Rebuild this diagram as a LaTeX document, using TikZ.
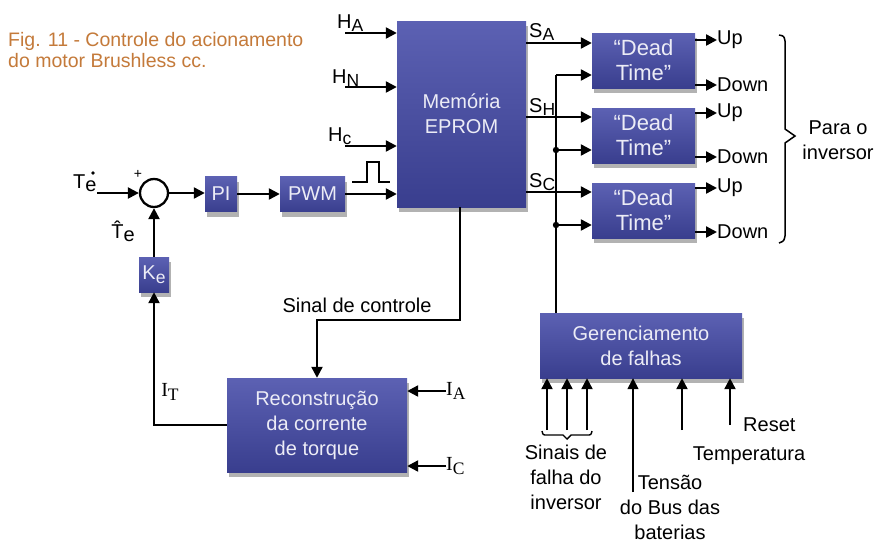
\documentclass[tikz,border=0pt]{standalone}
\usepackage{fontspec}
\setmainfont{Liberation Sans}
\newfontfamily\serifI{Liberation Serif}
\usetikzlibrary{arrows.meta,shadows}
\definecolor{blkTop}{HTML}{5C61B3}
\definecolor{blkBot}{HTML}{393E8E}
\definecolor{capc}{HTML}{C47A3A}
\definecolor{blktxt}{HTML}{ECECF6}
\newcommand\sbs[1]{\raisebox{-3.5pt}{\fontsize{17.5}{17.5}\selectfont #1}}
\begin{document}
\begin{tikzpicture}[x=1pt,y=-1pt,
  font=\fontsize{20}{25}\selectfont,
  blk/.style={draw=none, top color=blkTop, bottom color=blkBot, text=blktxt,
    inner sep=0pt, align=center,
    drop shadow={shadow xshift=2pt,shadow yshift=-5pt,fill=black!30,opacity=1}},
  arr/.style={line width=2.3pt, -{Triangle[length=11pt,width=11pt]}},
  ln/.style={line width=2.3pt},
  lbl/.style={inner sep=0pt, align=center}]
\useasboundingbox[fill=white] (0,0) rectangle (882,544);

% caption
\node[lbl, anchor=north west, align=left, text=capc,
  font=\fontsize{19.5}{21}\selectfont] (cap) at (8,32)
  {Fig. 11 - Controle do acionamento\\do motor Brushless cc.};

% blocks
\node[blk, minimum width=129pt, minimum height=186pt] (eprom) at (461.5,114) {Memória\\EPROM};
\node[blk, minimum width=103pt, minimum height=55pt, font=\fontsize{22}{25}\selectfont] (dt1) at (643.5,60.5) {“Dead\\Time”};
\node[blk, minimum width=103pt, minimum height=55pt, font=\fontsize{22}{25}\selectfont] (dt2) at (643.5,135.5) {“Dead\\Time”};
\node[blk, minimum width=103pt, minimum height=55pt, font=\fontsize{22}{25}\selectfont] (dt3) at (643.5,210.5) {“Dead\\Time”};
\node[blk, minimum width=32pt, minimum height=35pt] (pi) at (221,194) {PI};
\node[blk, minimum width=65pt, minimum height=35pt] (pwm) at (312.5,194) {PWM};
\node[blk, minimum width=30pt, minimum height=35pt] (ke) at (154,274.5) {K\sbs{e}};
\node[blk, minimum width=180pt, minimum height=94pt] (rec) at (317,425) {Reconstrução\\da corrente\\de torque};
\node[blk, minimum width=202pt, minimum height=65pt] (ger) at (641,345.5) {Gerenciamento\\de falhas};
\node[draw, line width=2.3pt, circle, minimum size=28pt, inner sep=0pt] (sum) at (154,193) {};

% summing junction input
\coordinate (tin) at (97,193);
\draw[arr] (tin) -- (sum.west);
\node[lbl, anchor=base west] (telbl) at (73,188) {T\raisebox{-3pt}{e}};
\fill (93,173) circle (1.8pt);
\node[lbl, font=\fontsize{14}{14}\selectfont] (plus) at (138,174) {+};
\node[lbl] (tehat) at (123,231) {\^{T}\raisebox{-3pt}{e}};

\draw[arr] (sum.east) -- (sum.east -| pi.west);
\draw[arr] (pi.east) -- (pwm.west);
\draw[arr] (pwm.east) -- (pwm.east -| eprom.west);
\draw[arr] (ke.north) -- (sum.south);

% H inputs
\coordinate (ha) at (345,33);
\coordinate (hn) at (345,87);
\coordinate (hc) at (345,146);
\draw[arr] (ha) -- (ha -| eprom.west);
\draw[arr] (hn) -- (hn -| eprom.west);
\draw[arr] (hc) -- (hc -| eprom.west);
\node[lbl, anchor=base west] (hal) at (337,28) {H\sbs{A}};
\node[lbl, anchor=base west] (hnl) at (332,83) {H\sbs{N}};
\node[lbl, anchor=base west] (hcl) at (328,141) {H\sbs{c}};
% pulse
\draw[line width=2.4pt] (352,182) -- (367,182) -- (367,162) -- (379,162) -- (379,182) -- (390,182);

% outputs S
\coordinate (sa) at (560,43);
\coordinate (sh) at (560,117);
\coordinate (sc) at (560,192);
\draw[arr] (eprom.east |- sa) -- (dt1.west |- sa);
\draw[arr] (eprom.east |- sh) -- (dt2.west |- sh);
\draw[arr] (eprom.east |- sc) -- (dt3.west |- sc);
\node[lbl, anchor=base west] (sal) at (529,37) {S\sbs{A}};
\node[lbl, anchor=base west] (shl) at (529,112) {S\sbs{H}};
\node[lbl, anchor=base west] (scl) at (529,187) {S\sbs{C}};

% fault line to dead-time blocks
\coordinate (f1) at (556,75);
\coordinate (f2) at (556,150);
\coordinate (f3) at (556,225);
\draw[line width=1.6pt] (ger.north -| f1) -- (f1);
\draw[arr] (f1) -- (f1 -| dt1.west);
\draw[arr] (f2) -- (f2 -| dt2.west);
\draw[arr] (f3) -- (f3 -| dt3.west);
\fill (f2) circle (3.2pt);
\fill (f3) circle (3.2pt);

% Up / Down outputs
\node[lbl, anchor=west] (up1) at (717,40) {Up};
\node[lbl, anchor=west] (dn1) at (717,85) {Down};
\node[lbl, anchor=west] (up2) at (717,113) {Up};
\node[lbl, anchor=west] (dn2) at (717,157) {Down};
\node[lbl, anchor=west] (up3) at (717,188) {Up};
\node[lbl, anchor=west] (dn3) at (717,232) {Down};
\draw[arr] (dt1.east |- up1.west) -- (up1.west);
\draw[arr] (dt1.east |- dn1.west) -- (dn1.west);
\draw[arr] (dt2.east |- up2.west) -- (up2.west);
\draw[arr] (dt2.east |- dn2.west) -- (dn2.west);
\draw[arr] (dt3.east |- up3.west) -- (up3.west);
\draw[arr] (dt3.east |- dn3.west) -- (dn3.west);

% brace
\draw[line width=1.5pt] (779,35) .. controls (784,36) .. (785,41) -- (785,129) -- (795,136) -- (785,143) -- (785,236) .. controls (784,241) .. (779,243);
\node[lbl] (para) at (838,140) {Para o\\inversor};

% control signal
\coordinate (sc1) at (460,320);
\draw[arr] (eprom.south -| sc1) -- (sc1) -- (sc1 -| rec.north) -- (rec.north);
\node[lbl] (sinal) at (357,305) {Sinal de controle};

% feedback
\draw[arr] (rec.west) -- (rec.west -| ke.south) -- (ke.south);
\node[lbl] (itl) at (170,392) {\serifI I\sbs{T}};

% current inputs
\node[lbl, anchor=west] (ia) at (446,391) {\serifI I\sbs{A}};
\node[lbl, anchor=west] (ic) at (446,466) {\serifI I\sbs{C}};
\draw[arr] (ia.west) -- (ia.west -| rec.east);
\draw[arr] (ic.west) -- (ic.west -| rec.east);

% fault manager inputs
\coordinate (g1) at (547,430);
\coordinate (g2) at (567,430);
\coordinate (g3) at (587,430);
\coordinate (gt) at (633,492);
\coordinate (gm) at (682,430);
\coordinate (gr) at (730,425);
\draw[arr] (g1) -- (g1 |- ger.south);
\draw[arr] (g2) -- (g2 |- ger.south);
\draw[arr] (g3) -- (g3 |- ger.south);
\draw[arr, line width=1.6pt] (gt) -- (gt |- ger.south);
\draw[arr] (gm) -- (gm |- ger.south);
\draw[arr] (gr) -- (gr |- ger.south);
\draw[line width=1.4pt] (542,431) .. controls (543,435) .. (547,435) -- (563,435) -- (567,439) -- (571,435) -- (587,435) .. controls (591,435) .. (592,431);

\node[lbl] (sinais) at (566,477) {Sinais de\\falha do\\inversor};
\node[lbl] (tensao) at (670,507) {Tensão\\do Bus das\\baterias};
\node[lbl, anchor=west] (reset) at (743,425) {Reset};
\node[lbl] (temp) at (749,456) {Temperatura};
\end{tikzpicture}
\end{document}
